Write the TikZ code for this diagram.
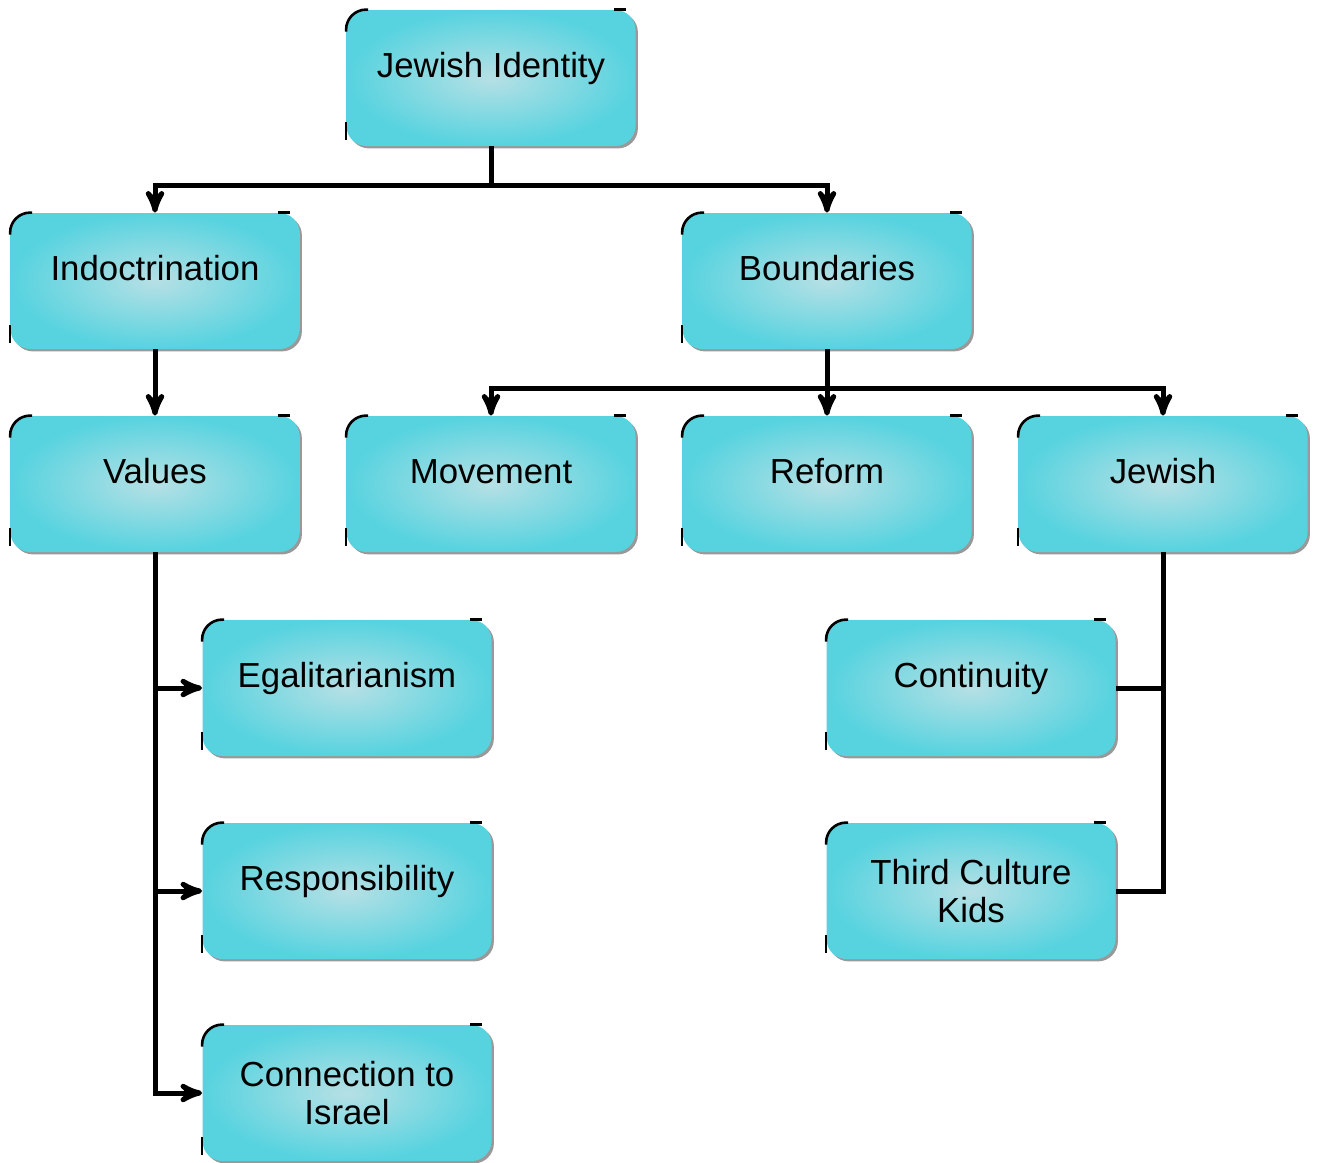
\documentclass[tikz,border=0pt]{standalone}
\usepackage{fontspec}
\setmainfont{Liberation Sans}
\usepackage{tikz}
\usetikzlibrary{arrows}
\usetikzlibrary{shadows}

\definecolor{boxedge}{HTML}{56D3DF}
\definecolor{boxmid}{HTML}{B6E0E5}

\tikzset{
  box/.style={rectangle,rounded corners=10pt,minimum width=144.5pt,minimum height=68pt,
    inner sep=2pt,shading=radial,inner color=boxmid,outer color=boxedge,align=center,
    font=\fontsize{17.4}{19}\selectfont,
    drop shadow={shadow xshift=1.2pt,shadow yshift=-1.2pt,fill=gray!80,opacity=1}},
  oneline/.style={text height=12.5pt,text depth=13.5pt},
  conn/.style={line width=2.5pt},
  corner/.style={line width=1.3pt}
}

\begin{document}
\begin{tikzpicture}[x=0.5pt,y=-0.5pt]
\useasboundingbox (0,0) rectangle (1317,1162);
\path
(491,78) node[box,oneline](ji){Jewish Identity}
(155,281) node[box,oneline](ind){Indoctrination}
(827,281) node[box,oneline](bnd){Boundaries}
(155,484) node[box,oneline](val){Values}
(491,484) node[box,oneline](mov){Movement}
(827,484) node[box,oneline](ref){Reform}
(1163,484) node[box,oneline](jew){Jewish}
(347,688) node[box,oneline](ega){Egalitarianism}
(347,891) node[box,oneline](res){Responsibility}
(347,1093) node[box](isr){Connection to\\Israel}
(971,688) node[box,oneline](con){Continuity}
(971,891) node[box](tck){Third Culture\\Kids}
;
%%% corner marks
\foreach \n in {ji,ind,bnd,val,mov,ref,jew,ega,res,isr,con,tck}{
\draw[corner] ([yshift=-11pt]\n.north west) [rounded corners=10pt] -- (\n.north west) -- ([xshift=11pt]\n.north west);
\draw[corner] ([xshift=-11pt]\n.north east) -- ([xshift=-5pt]\n.north east);
\draw[corner] ([yshift=12pt]\n.south west) -- ([yshift=3pt]\n.south west);
}
%%% tree lines with arrows
\foreach \x/\y/\d in {ji/ind/39, ji/bnd/39, bnd/mov/39, bnd/ref/39, bnd/jew/39}{
\draw[conn,-stealth'](\x.south) -- ++(0,\d) -| (\y.north);
}
\draw[conn,-stealth'](ind.south) -- (val.north);
\foreach \y in {ega,res,isr}{
\draw[conn,-stealth'](val.south) |- (\y.west);
}
%%% tree lines without arrows
\foreach \y in {con,tck}{
\draw[conn](jew.south) |- (\y.east);
}
\end{tikzpicture}
\end{document}
